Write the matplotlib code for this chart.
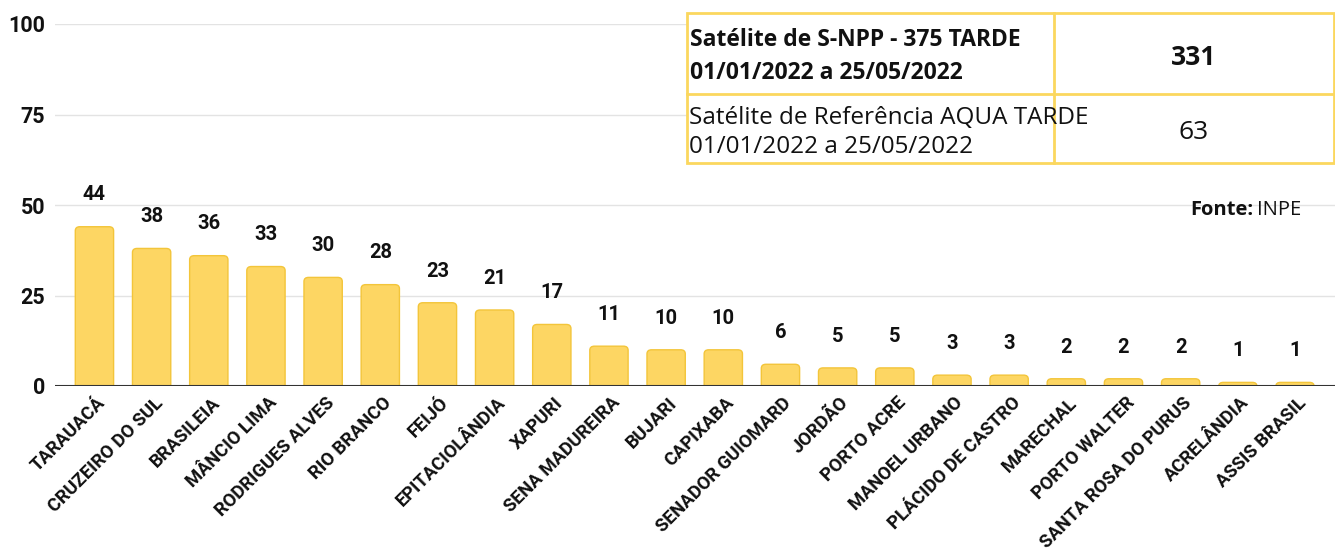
import matplotlib.pyplot as plt
from matplotlib.patches import Rectangle, FancyBboxPatch
from matplotlib.transforms import ScaledTranslation

municipios = [
    "TARAUACÁ", "CRUZEIRO DO SUL", "BRASILEIA", "MÂNCIO LIMA", "RODRIGUES ALVES",
    "RIO BRANCO", "FEIJÓ", "EPITACIOLÂNDIA", "XAPURI", "SENA MADUREIRA", "BUJARI",
    "CAPIXABA", "SENADOR GUIOMARD", "JORDÃO", "PORTO ACRE", "MANOEL URBANO",
    "PLÁCIDO DE CASTRO", "MARECHAL", "PORTO WALTER", "SANTA ROSA DO PURUS",
    "ACRELÂNDIA", "ASSIS BRASIL",
]
focos = [44, 38, 36, 33, 30, 28, 23, 21, 17, 11, 10, 10, 6, 5, 5, 3, 3, 2, 2, 2, 1, 1]
yticks = [0, 25, 50, 75, 100]

tabela_rotulos = [
    "Satélite de S-NPP - 375 TARDE\n01/01/2022 a 25/05/2022",
    "Satélite de Referência AQUA TARDE\n01/01/2022 a 25/05/2022",
]
tabela_valores = ["331", "63"]

BAR = "#FDD663"
EDGE = "#F3C53A"
TBORDER = "#FBD75E"
INK = "#111111"

plt.rcParams["font.family"] = ["Roboto", "DejaVu Sans"]

W, H = 1335, 556
fig = plt.figure(figsize=(W / 100, H / 100), dpi=100)
ax = fig.add_axes([55 / W, 1 - 386 / H, 1 - 55 / W, (386 - 24) / H])

x = list(range(len(focos)))
bars = ax.bar(x, focos, width=0.67, color="none", edgecolor="none")
# barras com cantos superiores arredondados (a base fica escondida abaixo de zero)
for b in bars:
    ax.add_patch(FancyBboxPatch((b.get_x(), -3), b.get_width(), b.get_height() + 3,
                                boxstyle="round,pad=0,rounding_size=0.08",
                                mutation_aspect=14, facecolor=BAR, edgecolor=EDGE,
                                linewidth=1, zorder=3))
for xi, v in zip(x, focos):
    ax.annotate(str(v), (xi, v), xytext=(0, 16), textcoords="offset points",
                ha="center", va="bottom", fontsize=14.5, fontweight="bold", color=INK)

ax.set_xlim(-0.69, len(focos) - 0.3)
ax.set_ylim(0, 100)
ax.set_yticks(yticks)
ax.set_yticklabels([str(t) for t in yticks], fontsize=15.5, fontweight="bold", color=INK)
ax.yaxis.grid(True, color="#e3e3e3", linewidth=1, zorder=0)
ax.axhline(0, color="#333333", linewidth=1.5, zorder=4)
for s in ax.spines.values():
    s.set_visible(False)
ax.tick_params(axis="y", length=0, pad=7)
ax.tick_params(axis="x", length=0, pad=2)
ax.set_xticks(x)
ax.set_xticklabels(municipios, rotation=45, ha="right", va="top", rotation_mode="anchor",
                   fontsize=13.2, fontweight="bold", color=INK)
shift = ScaledTranslation(2 / 100, -5 / 100, fig.dpi_scale_trans)
for lbl in ax.get_xticklabels():
    lbl.set_transform(lbl.get_transform() + shift)

# tabela de resumo (coordenadas em pixels da figura)
tx = fig.add_axes([0, 0, 1, 1], zorder=10)
tx.set_xlim(0, W)
tx.set_ylim(H, 0)
tx.axis("off")
tx.patch.set_alpha(0)
x0, x1, x2 = 687, 1054, 1334
y0, y1, y2 = 13, 94, 163
tx.add_patch(Rectangle((x0, y0), x2 - x0, y2 - y0, facecolor="white",
                       edgecolor=TBORDER, linewidth=2))
tx.plot([x0, x2], [y1, y1], color=TBORDER, linewidth=2)
tx.plot([x1, x1], [y0, y2], color=TBORDER, linewidth=2)
tfont = ["Open Sans", "DejaVu Sans"]
tx.text(x0 + 3, (y0 + y1) / 2 + 3, tabela_rotulos[0], ha="left", va="center",
        fontsize=16.5, fontweight="bold", family=tfont, linespacing=1.5, color=INK)
tx.text(x0 + 2, (y1 + y2) / 2 + 4, tabela_rotulos[1], ha="left", va="center",
        fontsize=17.5, family=tfont, linespacing=1.3, color=INK)
tx.text((x1 + x2) / 2, (y0 + y1) / 2 + 4, tabela_valores[0], ha="center", va="center",
        fontsize=19, fontweight="bold", family=tfont, color=INK)
tx.text((x1 + x2) / 2, (y1 + y2) / 2 + 4, tabela_valores[1], ha="center", va="center",
        fontsize=19, family=tfont, color=INK)

tx.text(1301, 210, "INPE", ha="right", va="center", fontsize=14.5, family=tfont, color=INK)
tx.text(1253, 210, "Fonte:", ha="right", va="center", fontsize=14.5, fontweight="bold",
        family=tfont, color=INK)

fig.savefig("out.png", dpi=100)
